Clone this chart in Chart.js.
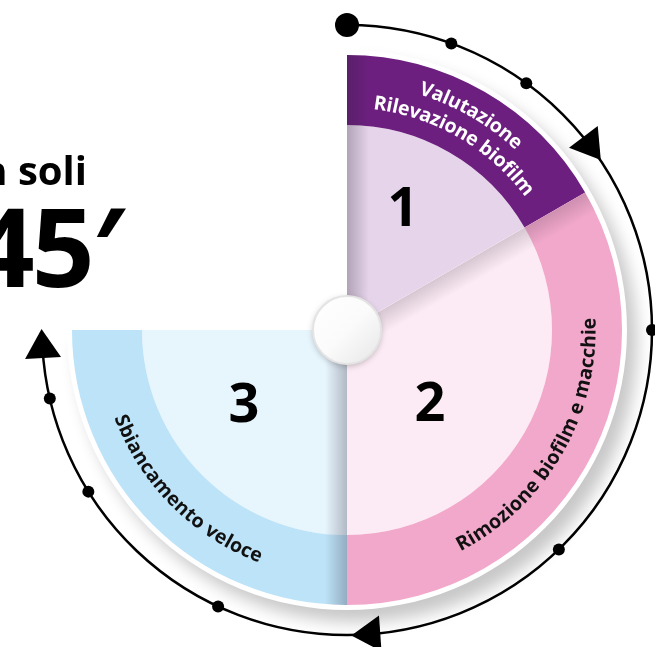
<!DOCTYPE html>
<html>
<head>
<meta charset="utf-8">
<script src="https://cdn.jsdelivr.net/npm/chart.js"></script>
<style>
  body { margin: 0; background: #fff; overflow: hidden; }
  #wrap { position: relative; width: 655px; height: 647px; }
  .head { position: absolute; font-family: "Open Sans", "DejaVu Sans", sans-serif; font-weight: 700;
          color: #000; white-space: nowrap; text-align: right; line-height: 1; }
</style>
</head>
<body>
<div id="wrap">
  <canvas id="myChart" width="655" height="647"></canvas>
  <div class="head" style="right:568px; top:150px; font-size:40px;">in soli</div>
  <div class="head" style="right:533px; top:189px; font-size:110px; letter-spacing:-3px;">45′</div>
</div>
<script>
var steps = [["Valutazione", "Rilevazione biofilm"], ["Rimozione biofilm e macchie"], ["Sbiancamento veloce"]];
var numbers = ["1", "2", "3"];
var minutes = [10, 20, 15];
var totalMinutes = 45;
var ringColors = ["#6C1F7F", "#F2A8CB", "#BDE3F8"];
var fillColors = ["#E6D5EA", "#FCEBF4", "#E7F5FD"];
var labelColors = ["#FFFFFF", "#111111", "#111111"];

// where the big numbers sit, relative to the centre
var numPos = [[56, -121], [83, 74], [-103, 75]];

function arcText(ctx, str, cx, cy, r, mid, outward) {
  var dir = outward ? 1 : -1;
  var total = 0;
  for (var i = 0; i < str.length; i++) total += ctx.measureText(str[i]).width;
  var a = mid - dir * total / 2 / r;
  for (var i = 0; i < str.length; i++) {
    var w = ctx.measureText(str[i]).width;
    var ang = a + dir * w / 2 / r;
    ctx.save();
    ctx.translate(cx + r * Math.cos(ang), cy + r * Math.sin(ang));
    ctx.rotate(ang + dir * Math.PI / 2);
    ctx.fillText(str[i], 0, 0);
    ctx.restore();
    a += dir * w / r;
  }
}

function deg(d) { return (d - 90) * Math.PI / 180; }

var decor = {
  id: "decor",
  beforeDatasetsDraw: function (chart) {
    var ctx = chart.ctx;
    var arcs = chart.getDatasetMeta(0).data;
    var cx = arcs[0].x, cy = arcs[0].y, R = arcs[0].outerRadius;
    ctx.save();
    ctx.beginPath();
    ctx.rect(cx, 0, chart.width - cx, chart.height);
    ctx.rect(0, cy, cx, chart.height - cy);
    ctx.clip();
    ctx.shadowColor = "rgba(0,0,0,0.22)";
    ctx.shadowBlur = 16;
    ctx.shadowOffsetX = 10;
    ctx.shadowOffsetY = 12;
    ctx.fillStyle = "#fff";
    ctx.beginPath();
    ctx.moveTo(cx, cy);
    ctx.arc(cx, cy, R + 5, arcs[0].startAngle, arcs[arcs.length - 1].endAngle);
    ctx.closePath();
    ctx.fill();
    ctx.restore();
  },
  afterDatasetsDraw: function (chart) {
    var ctx = chart.ctx;
    var arcs = chart.getDatasetMeta(0).data;
    var inner = chart.getDatasetMeta(1).data;
    var cx = arcs[0].x, cy = arcs[0].y, R = arcs[0].outerRadius;

    // soft shading along the start edge of each segment
    arcs.forEach(function (a, i) {
      ctx.save();
      ctx.beginPath();
      ctx.moveTo(cx, cy);
      ctx.arc(cx, cy, R, a.startAngle, a.endAngle);
      ctx.closePath();
      ctx.clip();
      ctx.translate(cx, cy);
      ctx.rotate(a.startAngle);
      var g = ctx.createLinearGradient(0, 0, 0, 22);
      g.addColorStop(0, i === 1 ? "rgba(40,30,50,0.18)" : "rgba(40,30,50,0.28)");
      g.addColorStop(1, "rgba(40,30,50,0)");
      ctx.fillStyle = g;
      ctx.fillRect(0, 0, R, 22);
      ctx.restore();
    });

    // curved step names on the outer ring
    ctx.save();
    ctx.font = "bold 19.5px 'Open Sans'";
    ctx.textAlign = "center";
    ctx.textBaseline = "middle";
    arcs.forEach(function (a, i) {
      var mid = (a.startAngle + a.endAngle) / 2;
      var outward = Math.sin(mid) < 0;
      var rMid = (a.outerRadius + a.innerRadius) / 2;
      var lines = steps[i];
      ctx.fillStyle = labelColors[i];
      lines.forEach(function (line, k) {
        var off = (lines.length - 1) / 2 - k;
        var r = outward ? rMid + off * 24 : rMid + 3;
        arcText(ctx, line, cx, cy, r, mid, outward);
      });
    });

    // big numbers
    ctx.font = "bold 54px 'Open Sans'";
    ctx.fillStyle = "#000";
    inner.forEach(function (a, i) {
      ctx.fillText(numbers[i], cx + numPos[i][0], cy + numPos[i][1] + 2);
    });
    ctx.restore();

    // centre knob
    ctx.save();
    ctx.shadowColor = "rgba(0,0,0,0.25)";
    ctx.shadowBlur = 6;
    ctx.shadowOffsetY = 2;
    var g2 = ctx.createLinearGradient(cx - 34, cy - 34, cx + 34, cy + 34);
    g2.addColorStop(0, "#ffffff");
    g2.addColorStop(0.5, "#fbfbfb");
    g2.addColorStop(1, "#e6e6e6");
    ctx.fillStyle = g2;
    ctx.beginPath();
    ctx.arc(cx, cy, 34, 0, Math.PI * 2);
    ctx.fill();
    ctx.shadowColor = "transparent";
    ctx.strokeStyle = "#e4e4e4";
    ctx.lineWidth = 2;
    ctx.stroke();
    ctx.restore();

    // the black time path with dots and arrows
    var rp = 305;
    ctx.save();
    ctx.strokeStyle = "#000";
    ctx.fillStyle = "#000";
    ctx.lineWidth = 2.5;
    ctx.beginPath();
    ctx.arc(cx, cy, rp, deg(0), deg(267));
    ctx.stroke();
    ctx.beginPath();
    ctx.arc(cx + rp * Math.cos(deg(0)), cy + rp * Math.sin(deg(0)), 12, 0, Math.PI * 2);
    ctx.fill();
    [20, 36, 90, 136, 205, 238, 257].forEach(function (d) {
      ctx.beginPath();
      ctx.arc(cx + rp * Math.cos(deg(d)), cy + rp * Math.sin(deg(d)), 6, 0, Math.PI * 2);
      ctx.fill();
    });
    [53, 176, 267].forEach(function (d) {
      var t = deg(d);
      var px = cx + rp * Math.cos(t), py = cy + rp * Math.sin(t);
      var dx = -Math.sin(t), dy = Math.cos(t);
      var nx = Math.cos(t), ny = Math.sin(t);
      ctx.beginPath();
      ctx.moveTo(px + dx * 17, py + dy * 17);
      ctx.lineTo(px - dx * 12 + nx * 18, py - dy * 12 + ny * 18);
      ctx.lineTo(px - dx * 12 - nx * 18, py - dy * 12 - ny * 18);
      ctx.closePath();
      ctx.fill();
    });
    ctx.restore();
  }
};

new Chart("myChart", {
  type: "pie",
  data: {
    labels: steps.map(function (s) { return s.join(" "); }),
    datasets: [{
      data: minutes,
      backgroundColor: ringColors,
      borderWidth: 0,
      weight: 70
    }, {
      data: minutes,
      backgroundColor: fillColors,
      borderWidth: 0,
      weight: 205
    }]
  },
  options: {
    responsive: false,
    animation: false,
    rotation: 0,
    circumference: totalMinutes / 60 * 360,
    layout: { padding: { left: 72, right: 33, top: 55, bottom: 42 } },
    plugins: {
      legend: { display: false },
      tooltip: { enabled: false },
      title: { display: false }
    }
  },
  plugins: [decor]
});
</script>
</body>
</html>
